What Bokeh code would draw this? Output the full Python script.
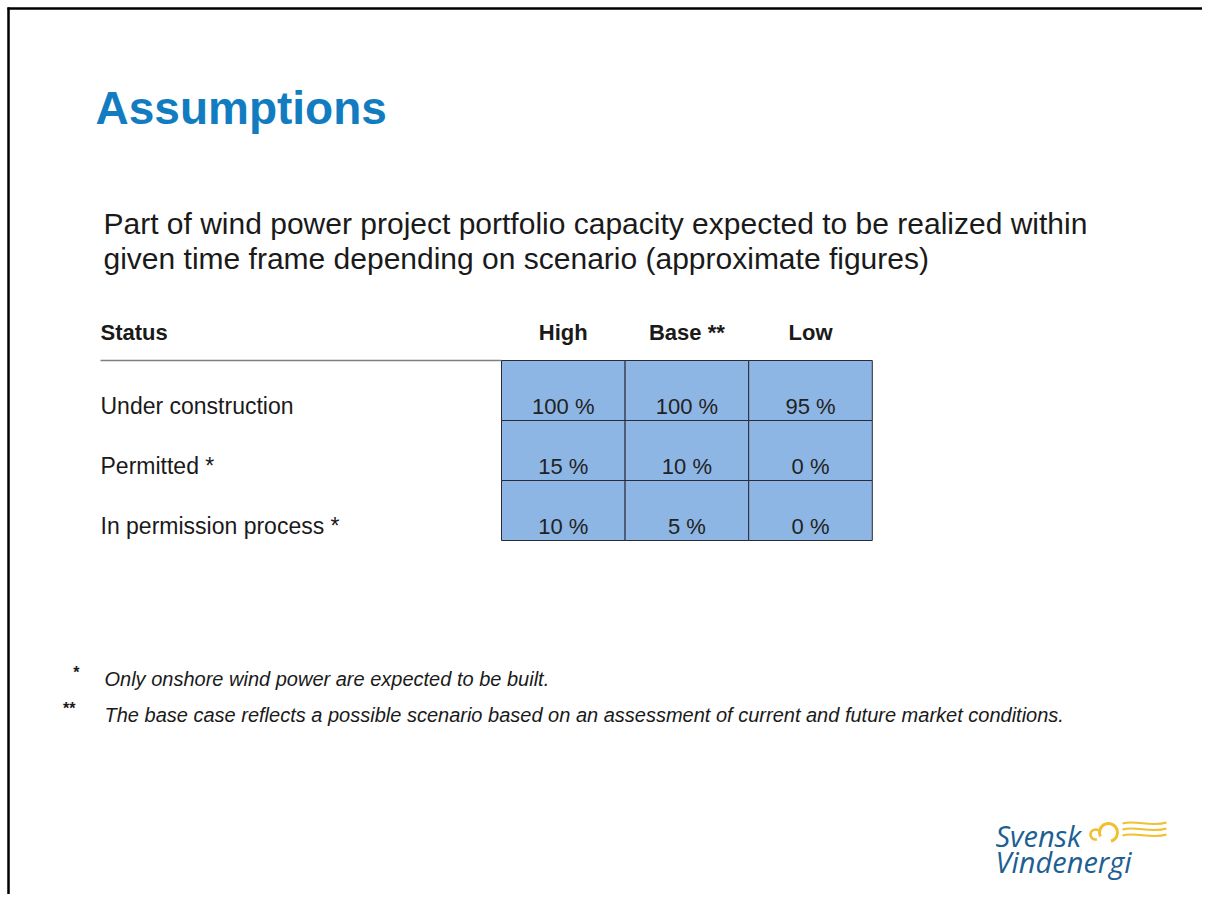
from bokeh.plotting import figure
from bokeh.models import Range1d, ColumnDataSource
from bokeh.core.properties import value
from bokeh.embed import file_html
from bokeh.resources import INLINE

# ---------------- data ----------------
title = "Assumptions"
subtitle_lines = [
    "Part of wind power project portfolio capacity expected to be realized within",
    "given time frame depending on scenario (approximate figures)",
]
status_header = "Status"
statuses = ["Under construction", "Permitted *", "In permission process *"]
scenarios = ["High", "Base **", "Low"]
high = [100, 15, 10]
base = [100, 10, 5]
low = [95, 0, 0]
footnote_marks = ["*", "**"]
footnotes = [
    "Only onshore wind power are expected to be built.",
    "The base case reflects a possible scenario based on an assessment of current and future market conditions.",
]
logo_lines = ["Svensk", "Vindenergi"]

# ---------------- layout constants ----------------
W, H = 1202, 894
FONT = "Liberation Sans"
TXT = "#1a1a1a"
COL_X0, COL_W = 501, 123.6
ROW_Y0, ROW_H = 360, 60
LABEL_X = 100


def bl(y, size):
    """shift so that the glyph baseline lands on y"""
    return y - 0.35 * size


p = figure(width=W, height=H, x_range=Range1d(0, W), y_range=Range1d(H, 0),
           output_backend="svg", toolbar_location=None, min_border=0,
           x_axis_location=None, y_axis_location=None)
p.grid.visible = False
p.outline_line_color = None
p.background_fill_color = "white"
p.border_fill_color = "white"

# slide border (left & top)
p.segment(x0=[8, 7], y0=[7, 8], x1=[8, W], y1=[H, 8], line_color="black", line_width=2.5)

# title
p.text(x=[95], y=[bl(124, 46)], text=[title], text_font=value(FONT), text_font_style="bold",
       text_font_size="46px", text_color="#127cc1", text_baseline="alphabetic")

# subtitle
p.text(x=[103] * len(subtitle_lines), y=[bl(233 + 35 * i, 30) for i in range(len(subtitle_lines))],
       text=subtitle_lines, text_font=value(FONT), text_font_size="30px", text_color=TXT,
       text_baseline="alphabetic")

# header row
hdr_x = [COL_X0 + (j + 0.5) * COL_W for j in range(len(scenarios))]
p.text(x=[LABEL_X], y=[bl(340, 22)], text=[status_header], text_font=value(FONT), text_font_style="bold",
       text_font_size="22px", text_color=TXT, text_baseline="alphabetic")
p.text(x=hdr_x, y=[bl(340, 22)] * len(scenarios), text=scenarios, text_font=value(FONT),
       text_font_style="bold", text_font_size="22px", text_color=TXT,
       text_baseline="alphabetic", text_align="center")
p.segment(x0=[LABEL_X], y0=[ROW_Y0], x1=[COL_X0], y1=[ROW_Y0], line_color="#7f7f7f", line_width=1.5)

# table cells
cols = [high, base, low]
cx, cy, ty, lab = [], [], [], []
for j, col in enumerate(cols):
    for i, v in enumerate(col):
        cx.append(COL_X0 + (j + 0.5) * COL_W)
        cy.append(ROW_Y0 + (i + 0.5) * ROW_H)
        ty.append(bl(ROW_Y0 + (i + 1) * ROW_H - 6, 22))
        lab.append(f"{v} %")
src = ColumnDataSource(dict(x=cx, y=cy, ty=ty, label=lab))
p.rect(x="x", y="y", width=COL_W, height=ROW_H, source=src, fill_color="#8db6e4",
       line_color="#2a2a38", line_width=1)
p.text(x="x", y="ty", text="label", source=src, text_font=value(FONT), text_font_size="22px",
       text_color="#222222", text_align="center", text_baseline="alphabetic")

# row labels
p.text(x=[LABEL_X] * len(statuses),
       y=[bl(ROW_Y0 + (i + 1) * ROW_H - 6, 23) for i in range(len(statuses))],
       text=statuses, text_font=value(FONT), text_font_size="23px", text_color=TXT,
       text_baseline="alphabetic")

# footnotes
fy = [685 + 36 * i for i in range(len(footnotes))]
p.text(x=[79, 75], y=[bl(y - 7, 16) for y in fy], text=footnote_marks, text_font=value(FONT),
       text_font_style="bold", text_font_size="16px", text_color=TXT, text_align="right",
       text_baseline="alphabetic")
p.text(x=[104] * len(footnotes), y=[bl(y, 20) for y in fy], text=footnotes, text_font=value(FONT),
       text_font_style="italic", text_font_size="20px", text_color=TXT, text_baseline="alphabetic")

# logo
p.text(x=[995] * 2, y=[bl(845, 29), bl(871, 29)], text=logo_lines, text_font=value("Open Sans"),
       text_font_style="italic", text_font_size="29px", text_color="#1d5f93",
       text_baseline="alphabetic")
YEL = "#f0c030"
p.arc(x=[1108], y=[832], radius=9, radius_units="screen", start_angle=-1.3, end_angle=3.6,
      line_color=YEL, line_width=3)
p.arc(x=[1095], y=[834], radius=5, radius_units="screen", start_angle=0.9, end_angle=5.0,
      line_color=YEL, line_width=2.5)
wy = [823, 829, 835]
p.bezier(x0=[1122] * 3, y0=wy, x1=[1166] * 3, y1=[y - 1 for y in wy],
         cx0=[1135] * 3, cy0=[y - 4 for y in wy], cx1=[1151] * 3, cy1=[y + 4 for y in wy],
         line_color=YEL, line_width=2)

open("out.html", "w").write(file_html(p, INLINE))
